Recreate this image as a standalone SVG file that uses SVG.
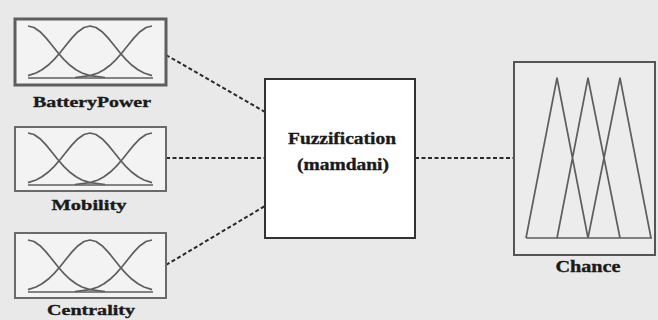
<svg xmlns="http://www.w3.org/2000/svg" width="658" height="320" viewBox="0 0 658 320">
<style>
.lbl{font-family:"Liberation Serif","DejaVu Serif",serif;font-weight:bold;fill:#1a1a1a;stroke:#1a1a1a;stroke-width:0.35;text-anchor:middle}
.mf{fill:none;stroke:#5e5e5e;stroke-width:1.7;stroke-linejoin:round}
.conn{fill:none;stroke:#2a2a2a;stroke-width:2;stroke-dasharray:4 2.5}
</style>
<defs>
<g id="bells">
<path class="mf" d="M13,7 L19,8.5 L25,12.7 L31,18.9 L37,26.2 L43,33.7 L49,40.6 L55,46.3 L61,50.8 L67,54 L75,56.6 L90,58.5"/>
<path class="mf" d="M13,56.6 L21,54 L27,50.8 L33,46.3 L39,40.6 L45,33.7 L51,26.2 L57,18.9 L63,12.7 L69,8.5 L75,7 L81,8.5 L87,12.7 L93,18.9 L99,26.2 L105,33.7 L111,40.6 L117,46.3 L123,50.8 L129,54 L137,56.6"/>
<path class="mf" d="M137,7 L131,8.5 L125,12.7 L119,18.9 L113,26.2 L107,33.7 L101,40.6 L95,46.3 L89,50.8 L83,54 L75,56.6 L60,58.5"/>
<path class="mf" d="M13,59 L138,59"/>
</g>
</defs>
<rect x="0" y="0" width="658" height="320" fill="#e9e9e9"/>
<g id="connectors">
<path class="conn" d="M166,55 L265,112"/>
<path class="conn" d="M166,158 L265,158"/>
<path class="conn" d="M166,265 L265,206"/>
<path class="conn" d="M415,158 L514,158"/>
</g>
<g id="batterypower">
<rect x="15" y="19" width="151" height="66" fill="#f3f3f3" stroke="#5e5e5e" stroke-width="3"/>
<use href="#bells" transform="translate(15,19)"/>
<text class="lbl" x="92" y="107" font-size="15" textLength="118" lengthAdjust="spacingAndGlyphs">BatteryPower</text>
</g>
<g id="mobility">
<rect x="15" y="127" width="151" height="64" fill="#f3f3f3" stroke="#6a6a6a" stroke-width="2"/>
<use href="#bells" transform="translate(15,126)"/>
<text class="lbl" x="89" y="210" font-size="15" textLength="75" lengthAdjust="spacingAndGlyphs">Mobility</text>
</g>
<g id="centrality">
<rect x="15" y="233" width="151" height="65" fill="#f3f3f3" stroke="#6a6a6a" stroke-width="2"/>
<use href="#bells" transform="translate(15,233)"/>
<text class="lbl" x="91" y="315" font-size="15" textLength="88" lengthAdjust="spacingAndGlyphs">Centrality</text>
</g>
<g id="fuzzification">
<rect x="265" y="79" width="150" height="159" fill="#ffffff" stroke="#333" stroke-width="2"/>
<text class="lbl" x="342" y="144" font-size="17" textLength="108" lengthAdjust="spacingAndGlyphs">Fuzzification</text>
<text class="lbl" x="343" y="170" font-size="17" textLength="92" lengthAdjust="spacingAndGlyphs">(mamdani)</text>
</g>
<g id="chance">
<rect x="514" y="62" width="141" height="193" fill="#ececec" stroke="#555" stroke-width="2"/>
<path class="mf" d="M526,238 L557,78 L588,238 M557,238 L588,78 L620,238 M588,238 L620,78 L651,238 M526,238 L652,238"/>
<text class="lbl" x="588" y="272" font-size="16" textLength="65" lengthAdjust="spacingAndGlyphs">Chance</text>
</g>
</svg>
